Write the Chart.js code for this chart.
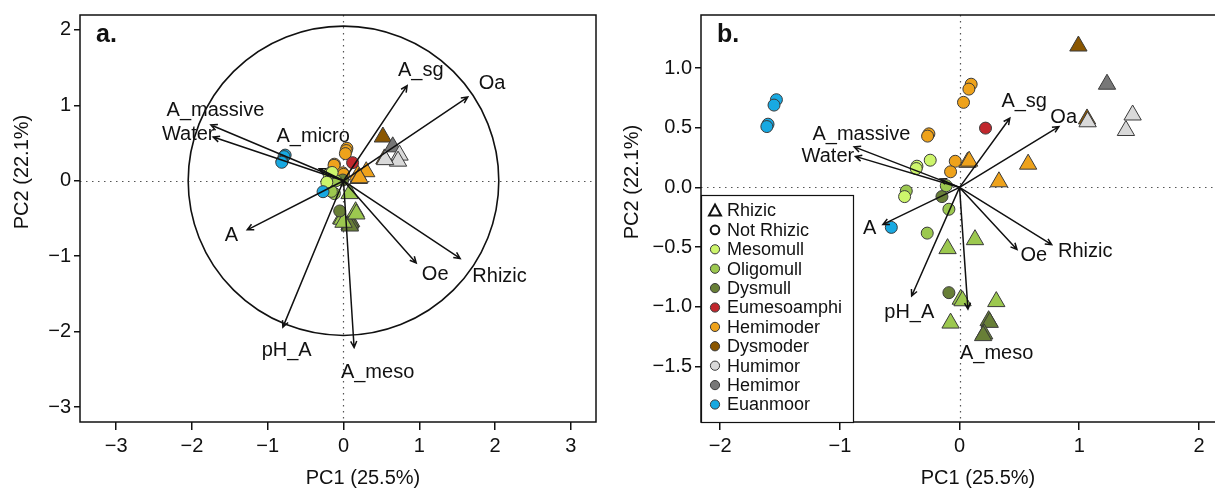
<!DOCTYPE html>
<html>
<head>
<meta charset="utf-8">
<script src="https://cdn.jsdelivr.net/npm/chart.js@4.4.1/dist/chart.umd.min.js"></script>
<style>
  html, body { margin: 0; padding: 0; background: #fff; overflow: hidden; }
  #wrap { position: relative; width: 1215px; height: 491px; overflow: hidden; }
  #boxA { position: absolute; left: 0; top: 0; width: 607px; height: 491px; }
  #boxB { position: absolute; left: 607px; top: 0; width: 658px; height: 491px; }
</style>
</head>
<body>
<div id="wrap">
  <div id="boxA"><canvas id="pcaA" width="607" height="491"></canvas></div>
  <div id="boxB"><canvas id="pcaB" width="658" height="491"></canvas></div>
</div>
<script>
Chart.defaults.font.family = '"Liberation Sans", Arial, Helvetica, sans-serif';
Chart.defaults.color = '#111';

// humus forms and their fill colours
const forms = ['Mesomull', 'Oligomull', 'Dysmull', 'Eumesoamphi', 'Hemimoder',
               'Dysmoder', 'Humimor', 'Hemimor', 'Euanmoor'];
const formColors = ['#cdf56b', '#9cc84f', '#687f37', '#c1272d', '#eea21b',
                    '#8a5600', '#d9d9d9', '#777777', '#18a9e2'];
// stacking order of the groups (later ones on top)
const drawOrder = [8, 0, 1, 2, 3, 4, 6, 7, 5];

// explanatory variables
const variables = ['A_sg', 'Oa', 'A_massive', 'Water', 'A_micro', 'A', 'pH_A', 'A_meso', 'Oe', 'Rhizic'];

// panel a: loadings (arrow tips) and where their names sit
const loadAx = [0.84, 1.64, -1.75, -1.72, -0.32, -1.27, -0.80, 0.14, 0.96, 1.54];
const loadAy = [1.26, 1.11, 0.74, 0.58, 0.16, -0.65, -1.94, -2.21, -1.09, -1.03];
const nameAx = [1.02, 1.96, -1.69, -2.05, -0.40, -1.48, -0.75, 0.45, 1.21, 2.06];
const nameAy = [1.46, 1.29, 0.93, 0.61, 0.59, -0.72, -2.25, -2.54, -1.24, -1.27];
const circleRadiusA = 2.05;

// panel b: loadings and name positions (A_micro has no name drawn)
const loadBx = [0.42, 0.83, -0.88, -0.87, -0.16, -0.64, -0.40, 0.07, 0.48, 0.77];
const loadBy = [0.58, 0.51, 0.34, 0.26, 0.07, -0.31, -0.91, -1.02, -0.52, -0.48];
const nameBx = [0.54, 0.87, -0.82, -1.10, null, -0.75, -0.42, 0.31, 0.62, 1.05];
const nameBy = [0.72, 0.59, 0.44, 0.26, null, -0.34, -1.05, -1.39, -0.57, -0.54];

// panel a: site scores (form index, rhizic flag)
const scoreAx = [-0.77, -0.785, -0.81, -0.815, -0.27,
                 0.045, 0.035, 0.025, -0.12, -0.125, -0.01, 0.0,
                 0.12,
                 -0.18, -0.19, -0.15, -0.22,
                 -0.21, -0.12, -0.10, -0.16,
                 -0.01, -0.05,
                 0.30, 0.19, 0.20, 0.21,
                 0.52, 0.54,
                 0.65,
                 0.74, 0.72, 0.55,
                 0.08, 0.16, -0.03, -0.02, 0.17, 0.00,
                 0.10, 0.08, 0.09, 0.085];
const scoreAy = [0.34, 0.32, 0.26, 0.245, -0.145,
                 0.43, 0.40, 0.36, 0.22, 0.205, 0.105, 0.085,
                 0.24,
                 0.10, 0.085, 0.11, -0.02,
                 -0.01, -0.17, 0.0, -0.14,
                 0.01, -0.40,
                 0.12, 0.075, 0.03, 0.04,
                 0.58, 0.29,
                 0.45,
                 0.34, 0.26, 0.28,
                 -0.17, -0.41, -0.50, -0.51, -0.44, -0.55,
                 -0.54, -0.58, -0.56, -0.60];
const scoreAform = [8, 8, 8, 8, 8,
                    4, 4, 4, 4, 4, 4, 4,
                    3,
                    0, 0, 0, 0,
                    1, 1, 1, 1,
                    2, 2,
                    4, 4, 4, 4,
                    5, 5,
                    7,
                    6, 6, 6,
                    1, 1, 1, 1, 1, 1,
                    2, 2, 2, 2];
const scoreArhizic = [0, 0, 0, 0, 0,
                      0, 0, 0, 0, 0, 0, 0,
                      0,
                      0, 0, 0, 0,
                      0, 0, 0, 0,
                      0, 0,
                      1, 1, 1, 1,
                      1, 1,
                      1,
                      1, 1, 1,
                      1, 1, 1, 1, 1, 1,
                      1, 1, 1, 1];

// panel b: site scores
const scoreBx = [-1.53, -1.55, -1.60, -1.61, -0.57,
                 0.097, 0.078, 0.033, -0.256, -0.267, -0.036, -0.075,
                 0.217,
                 -0.356, -0.362, -0.245, -0.459,
                 -0.445, -0.111, -0.089, -0.27,
                 -0.147, -0.089,
                 0.066, 0.08, 0.573, 0.329,
                 0.993, 1.065,
                 1.232,
                 1.446, 1.39, 1.07,
                 -0.10, 0.129, 0.01, 0.025, 0.307, -0.075,
                 0.243, 0.252, 0.206, 0.197];
const scoreBy = [0.735, 0.69, 0.53, 0.51, -0.335,
                 0.865, 0.824, 0.713, 0.449, 0.43, 0.219, 0.131,
                 0.497,
                 0.178, 0.158, 0.228, -0.077,
                 -0.03, 0.014, -0.183, -0.383,
                 -0.077, -0.882,
                 0.21, 0.22, 0.195, 0.047,
                 1.185, 0.574,
                 0.865,
                 0.607, 0.477, 0.55,
                 -0.513, -0.438, -0.937, -0.95, -0.957, -1.137,
                 -1.117, -1.131, -1.228, -1.242];
const scoreBform = scoreAform;
const scoreBrhizic = scoreArhizic;

// axis ticks
const ticksAx = [-3, -2, -1, 0, 1, 2, 3];
const ticksAy = [-3, -2, -1, 0, 1, 2];
const ticksBx = [-2, -1, 0, 1, 2];
const ticksBy = [-1.5, -1.0, -0.5, 0.0, 0.5, 1.0];

const minus = s => s.replace('-', '\u2212');

function buildDatasets(xs, ys, fs, rs) {
  const sets = [];
  [0, 1].forEach(rh => {
    drawOrder.forEach(f => {
      const pts = [];
      xs.forEach((x, i) => {
        if (fs[i] === f && rs[i] === rh) pts.push({ x: x, y: ys[i] });
      });
      if (!pts.length) return;
      sets.push({
        label: forms[f] + (rh ? ' rhizic' : ''),
        data: pts,
        pointStyle: rh ? 'triangle' : 'circle',
        pointRadius: rh ? 10 : 6,
        pointBackgroundColor: formColors[f],
        pointBorderColor: '#3a3a3a',
        pointBorderWidth: 1
      });
    });
  });
  return sets;
}

function drawArrow(ctx, x0, y0, x1, y1) {
  const ang = Math.atan2(y1 - y0, x1 - x0), head = 7, spread = Math.PI / 7;
  ctx.beginPath();
  ctx.moveTo(x0, y0);
  ctx.lineTo(x1, y1);
  ctx.moveTo(x1 - head * Math.cos(ang - spread), y1 - head * Math.sin(ang - spread));
  ctx.lineTo(x1, y1);
  ctx.lineTo(x1 - head * Math.cos(ang + spread), y1 - head * Math.sin(ang + spread));
  ctx.stroke();
}

// reference lines, correlation circle, loading arrows, box, titles, legend
const biplot = {
  id: 'biplot',
  beforeDatasetsDraw(chart, args, o) {
    const { ctx, chartArea: ca, scales: { x, y } } = chart;
    ctx.save();
    ctx.strokeStyle = '#555';
    ctx.lineWidth = 1.2;
    ctx.setLineDash([1.5, 4.5]);
    const x0 = Math.round(x.getPixelForValue(0)) + 0.5;
    const y0 = Math.round(y.getPixelForValue(0)) + 0.5;
    ctx.beginPath();
    ctx.moveTo(x0, ca.top); ctx.lineTo(x0, ca.bottom);
    ctx.moveTo(ca.left, y0); ctx.lineTo(ca.right, y0);
    ctx.stroke();
    ctx.setLineDash([]);
    if (o.circle) {
      const rx = x.getPixelForValue(o.circle) - x.getPixelForValue(0);
      const ry = y.getPixelForValue(0) - y.getPixelForValue(o.circle);
      ctx.strokeStyle = '#111';
      ctx.lineWidth = 1.6;
      ctx.beginPath();
      ctx.ellipse(x.getPixelForValue(0), y.getPixelForValue(0), rx, ry, 0, 0, Math.PI * 2);
      ctx.stroke();
    }
    ctx.restore();
  },
  afterDatasetsDraw(chart, args, o) {
    const { ctx, chartArea: ca, scales: { x, y } } = chart;
    ctx.save();
    ctx.strokeStyle = '#111';
    ctx.lineWidth = 1.5;
    const ox = x.getPixelForValue(0), oy = y.getPixelForValue(0);
    o.lx.forEach((v, i) => drawArrow(ctx, ox, oy, x.getPixelForValue(v), y.getPixelForValue(o.ly[i])));

    ctx.fillStyle = '#111';
    ctx.font = '20px "Liberation Sans", Arial, sans-serif';
    ctx.textAlign = 'center';
    ctx.textBaseline = 'middle';
    o.nx.forEach((v, i) => {
      if (v === null) return;
      ctx.fillText(variables[i], x.getPixelForValue(v), y.getPixelForValue(o.ny[i]));
    });

    // plot frame
    ctx.lineWidth = 1.5;
    ctx.strokeRect(ca.left, ca.top, ca.right - ca.left, ca.bottom - ca.top);

    // panel letter
    ctx.font = 'bold 25px "Liberation Sans", Arial, sans-serif';
    ctx.textAlign = 'left';
    ctx.textBaseline = 'alphabetic';
    ctx.fillText(o.letter, ca.left + o.letterDx, 42);

    // axis titles
    ctx.font = '20px "Liberation Sans", Arial, sans-serif';
    ctx.textAlign = 'center';
    ctx.textBaseline = 'middle';
    ctx.fillText('PC1 (25.5%)', o.xTitle[0], o.xTitle[1]);
    ctx.save();
    ctx.translate(o.yTitle[0], o.yTitle[1]);
    ctx.rotate(-Math.PI / 2);
    ctx.fillText('PC2 (22.1%)', 0, 0);
    ctx.restore();

    if (o.legend) {
      const lx = ca.left, ly = o.legend.top, lw = o.legend.width;
      ctx.fillStyle = '#fff';
      ctx.fillRect(lx, ly, lw, ca.bottom - ly);
      ctx.strokeStyle = '#111';
      ctx.lineWidth = 1.2;
      ctx.strokeRect(lx + 0.5, ly + 0.5, lw, ca.bottom - ly);
      const rows = [['Rhizic', 'tri'], ['Not Rhizic', 'ring']].concat(forms.map((f, i) => [f, i]));
      ctx.font = '18px "Liberation Sans", Arial, sans-serif';
      ctx.textAlign = 'left';
      ctx.textBaseline = 'middle';
      rows.forEach((r, k) => {
        const cy = ly + 15.5 + k * 19.4, cx = lx + 14;
        ctx.lineWidth = 2;
        ctx.strokeStyle = '#111';
        if (r[1] === 'tri') {
          ctx.beginPath();
          ctx.moveTo(cx, cy - 6); ctx.lineTo(cx + 6, cy + 5); ctx.lineTo(cx - 6, cy + 5);
          ctx.closePath(); ctx.stroke();
        } else if (r[1] === 'ring') {
          ctx.beginPath(); ctx.arc(cx, cy, 4.3, 0, Math.PI * 2); ctx.stroke();
        } else {
          ctx.lineWidth = 1;
          ctx.strokeStyle = '#3a3a3a';
          ctx.fillStyle = formColors[r[1]];
          ctx.beginPath(); ctx.arc(cx, cy, 4.6, 0, Math.PI * 2); ctx.fill(); ctx.stroke();
        }
        ctx.fillStyle = '#111';
        ctx.fillText(r[0], lx + 26, cy + 1);
      });
    }
    ctx.restore();
  }
};

function axisOpts(min, max, ticks, fmt, isY, size) {
  return {
    type: 'linear',
    min: min,
    max: max,
    afterBuildTicks: s => { s.ticks = ticks.map(v => ({ value: v })); },
    afterFit: s => { if (isY) s.width = size; else s.height = size; },
    border: { display: false },
    grid: { drawOnChartArea: false, drawTicks: true, tickLength: isY ? 6 : 8, color: '#111', lineWidth: 1.5 },
    ticks: {
      autoSkip: false,
      maxRotation: 0,
      padding: isY ? 3 : 4,
      color: '#111',
      font: { size: 20 },
      callback: v => minus(fmt(v))
    }
  };
}

function makeChart(id, sets, xs, ys, deco) {
  return new Chart(document.getElementById(id).getContext('2d'), {
    type: 'scatter',
    data: { datasets: sets },
    options: {
      responsive: false,
      animation: false,
      events: [],
      layout: { padding: { left: 0, right: 10, top: 12, bottom: 0 } },
      scales: { x: xs, y: ys },
      plugins: { legend: { display: false }, tooltip: { enabled: false }, biplot: deco }
    },
    plugins: [biplot]
  });
}

makeChart('pcaA',
  buildDatasets(scoreAx, scoreAy, scoreAform, scoreArhizic),
  axisOpts(-3.478, 3.333, ticksAx, v => String(v), false, 69),
  axisOpts(-3.197, 2.197, ticksAy, v => String(v), true, 80),
  { lx: loadAx, ly: loadAy, nx: nameAx, ny: nameAy, circle: circleRadiusA,
    letter: 'a.', letterDx: 16, xTitle: [363, 478], yTitle: [22, 172] });

makeChart('pcaB',
  buildDatasets(scoreBx, scoreBy, scoreBform, scoreBrhizic),
  axisOpts(-2.160, 2.460, ticksBx, v => String(v), false, 69),
  axisOpts(-1.966, 1.445, ticksBy, v => v.toFixed(1), true, 94),
  { lx: loadBx, ly: loadBy, nx: nameBx, ny: nameBy, circle: null,
    letter: 'b.', letterDx: 16, xTitle: [371, 478], yTitle: [25, 182],
    legend: { top: 195, width: 152 } });
</script>
</body>
</html>
